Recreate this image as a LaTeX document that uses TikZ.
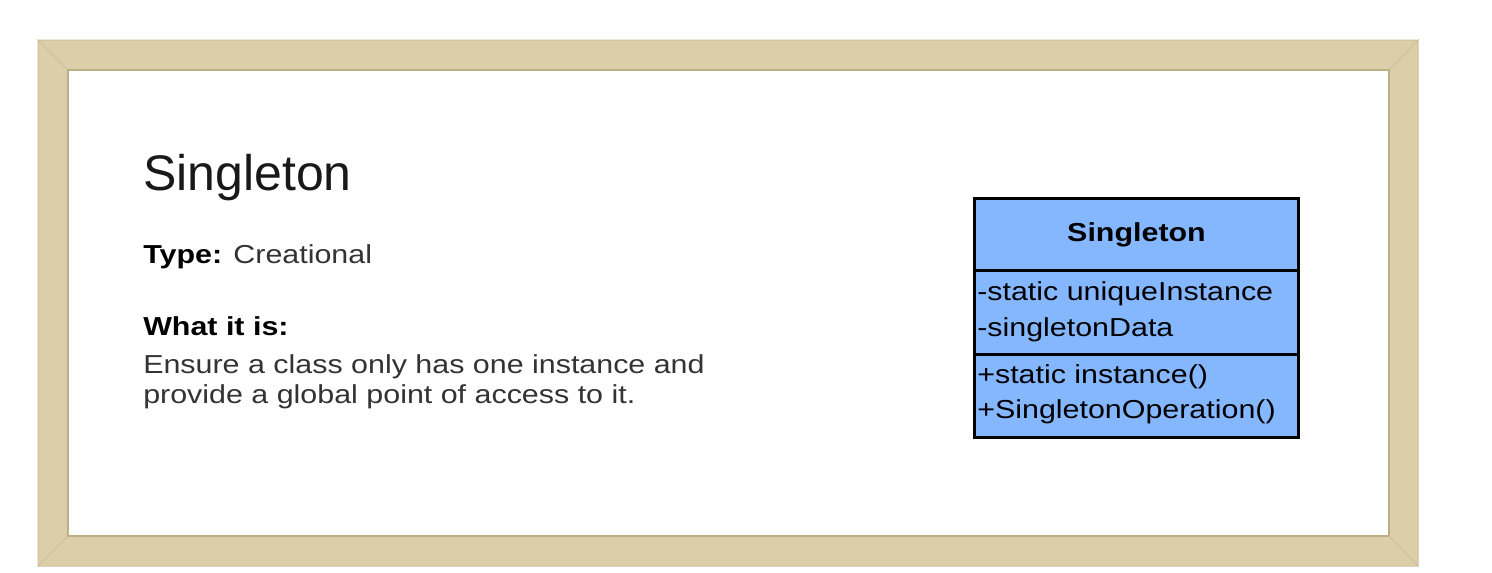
\documentclass[tikz,border=0pt]{standalone}
\usepackage{fontspec}
\setmainfont{Liberation Sans}
\newfontfamily\bodyfont[FakeStretch=1.17]{Liberation Sans}
\usetikzlibrary{positioning}
\definecolor{framebeige}{RGB}{219,207,170}
\definecolor{frameedge}{RGB}{205,192,152}
\definecolor{frameshade}{RGB}{188,175,135}
\definecolor{umlblue}{RGB}{133,183,255}
\definecolor{bodygrey}{RGB}{51,51,51}

\begin{document}
\begin{tikzpicture}[x=0.75pt, y=-0.75pt,
    heading/.style = {anchor=base west, inner sep=0, text=black!90, font=\fontsize{37.5}{45}\selectfont},
    body/.style = {anchor=base west, inner sep=0, text=bodygrey, font=\bodyfont\fontsize{19.5}{23}\selectfont},
    part/.style = {draw, line width=2.25pt, fill=umlblue, minimum width=243pt, inner sep=0, outer sep=0},
    member/.style = {anchor=base west, inner sep=0, font=\bodyfont\fontsize{19.5}{23}\selectfont}]
    \useasboundingbox (0,0) rectangle (1492,572);

    % picture frame
    \fill[white] (68,70) rectangle (1389,536);
    \filldraw[fill=framebeige, draw=frameedge, line width=0.75pt]
        (38,40) -- (1418,40) -- (1389,70) -- (68,70) -- cycle
        (38,40) -- (68,70) -- (68,536) -- (38,566) -- cycle
        (38,566) -- (68,536) -- (1389,536) -- (1418,566) -- cycle
        (1418,40) -- (1418,566) -- (1389,536) -- (1389,70) -- cycle;
    \draw[frameshade, line width=1.5pt] (68,70) rectangle (1389,536);

    % description
    \node[heading] (title) at (143,190) {Singleton};
    \node[body] (type) at (143,263) {\textbf{\color{black}Type:} Creational};
    \node[body] (what) at (143,335) {\textbf{\color{black}What it is:}};
    \node[body] (desc1) at (143,373) {Ensure a class only has one instance and};
    \node[body] (desc2) at (143,403) {provide a global point of access to it.};

    % class box
    \node[part, minimum height=54pt] (head) at (1136.5,234.5) {};
    \node[part, minimum height=62.625pt, below=0pt of head] (attrs) {};
    \node[part, minimum height=62.625pt, below=0pt of attrs] (ops) {};

    \node[member, anchor=base, font=\bodyfont\bfseries\fontsize{19.5}{23}\selectfont] (name) at (1136.5,241) {Singleton};
    \node[member] (uinst) at (977,300) {-static uniqueInstance};
    \node[member] (sdata) at (977,336) {-singletonData};
    \node[member] (inst) at (977,383) {+static instance()};
    \node[member] (sop) at (977,418) {+SingletonOperation()};

\end{tikzpicture}
\end{document}
